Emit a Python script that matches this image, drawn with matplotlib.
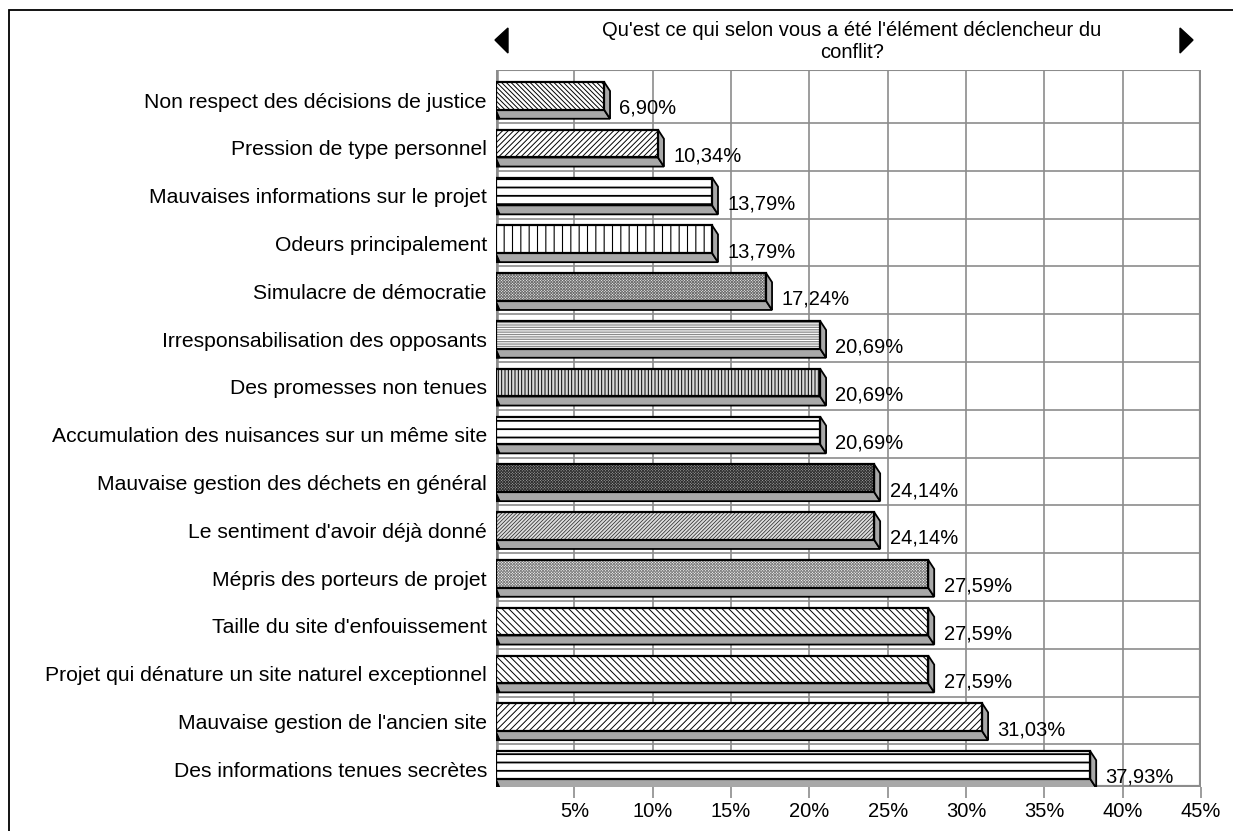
import matplotlib
matplotlib.use("Agg")
import matplotlib.pyplot as plt
from matplotlib.patches import Polygon, Rectangle

plt.rcParams['font.family'] = ['Liberation Sans', 'DejaVu Sans']

# top to bottom
categories = [
    "Non respect des décisions de justice",
    "Pression de type personnel",
    "Mauvaises informations sur le projet",
    "Odeurs principalement",
    "Simulacre de démocratie",
    "Irresponsabilisation des opposants",
    "Des promesses non tenues",
    "Accumulation des nuisances sur un même site",
    "Mauvaise gestion des déchets en général",
    "Le sentiment d'avoir déjà donné",
    "Mépris des porteurs de projet",
    "Taille du site d'enfouissement",
    "Projet qui dénature un site naturel exceptionnel",
    "Mauvaise gestion de l'ancien site",
    "Des informations tenues secrètes",
]
values = [6.90, 10.34, 13.79, 13.79, 17.24, 20.69, 20.69, 20.69,
          24.14, 24.14, 27.59, 27.59, 27.59, 31.03, 37.93]
hatches = ['\\' * 7, '/' * 6, '--', '||', 'x' * 12, '-' * 7, '|' * 5, '--',
           'x' * 12, '/' * 9, 'x' * 12, '\\' * 5, '\\' * 5, '/' * 5, '--']
faces = ['white', 'white', 'white', 'white', '#f0f0f0', 'white', '#d8d8d8', 'white',
         '#a0a0a0', '#dcdcdc', 'white', 'white', 'white', 'white', 'white']
hatch_cols = ['black', 'black', 'black', 'black', '#707070', '#8a8a8a', 'black', 'black',
              '#303030', '#202020', '#808080', 'black', 'black', 'black', 'black']
hatch_lw = [0.7, 0.7, 1.3, 0.8, 0.6, 0.9, 0.7, 1.3, 0.6, 0.5, 0.6, 0.7, 0.7, 0.7, 1.3]
ticks = [5, 10, 15, 20, 25, 30, 35, 40, 45]
title = "Qu'est ce qui selon vous a été l'élément déclencheur du\nconflit?"

W, H = 1233, 831
FS = 14.5
fig = plt.figure(figsize=(W / 100, H / 100), dpi=100)
ax = fig.add_axes([496 / W, 1 - 787 / H, (1201 - 496) / W, (787 - 70) / H])
ax.set_xlim(0, 45)
ax.set_ylim(14.5, -0.5)

grid_c = '#8c8c8c'
shade = '#a8a8a8'
dx, dy = 0.38, 0.19
h_top, h_bot = 0.25, 0.33

# back wall grid
for t in ticks[:-1]:
    ax.axvline(t, color=grid_c, lw=1.2, zorder=0)
for i in range(len(categories) - 1):
    ax.axhline(i + 0.5 + 0.11, color=grid_c, lw=1.2, zorder=0)
ax.axvline(45, color=grid_c, lw=3, zorder=0)
ax.axhline(14.5, color=grid_c, lw=3, zorder=0)
ax.axhline(-0.5, color=grid_c, lw=1.5, zorder=0)
ax.axvline(0, color=grid_c, lw=4, zorder=0)

idx = list(range(len(categories)))
for i, v in enumerate(values):
    yt, yb = i - h_top, i + h_bot
    yc = i + (h_bot - h_top) / 2
    with plt.rc_context({'hatch.linewidth': hatch_lw[i]}):
        ax.barh(yc, v, height=h_top + h_bot, left=0, color=faces[i],
                hatch=hatches[i], edgecolor=hatch_cols[i], lw=0, zorder=3)
    ax.barh(yc, v, height=h_top + h_bot, left=0, fill=False,
            edgecolor='black', lw=1.6, zorder=3.5)
    ax.add_patch(Polygon([(0, yb), (v, yb), (v + dx, yb + dy), (0, yb + dy)],
                         closed=True, fc=shade, ec='black', lw=1.3, zorder=2))
    ax.add_patch(Polygon([(v, yt), (v + dx, yt + dy), (v + dx, yb + dy), (v, yb)],
                         closed=True, fc=shade, ec='black', lw=1.3, zorder=2))
    ax.add_patch(Polygon([(0, yb), (0.25, yb + dy), (0, yb + dy)],
                         closed=True, fc='black', ec='black', lw=0.8, zorder=2))
    ax.text(v + dx + 0.6, i + 0.3, f"{v:.2f}".replace('.', ',') + '%',
            ha='left', va='center', fontsize=FS, zorder=4)

ax.set_xticks(ticks)
ax.set_xticklabels([f"{t}%" for t in ticks], fontsize=FS)
ax.set_yticks([i + 0.13 for i in idx])
ax.set_yticklabels(categories, fontsize=15.2)
ax.tick_params(axis='x', length=8, color=grid_c, width=1.2, pad=3)
ax.tick_params(axis='y', length=0, pad=6.5)
for s in ax.spines.values():
    s.set_visible(False)

fig.text(852 / W, 1 - 42 / H, title, ha='center', va='center', fontsize=FS,
         linespacing=1.2)
fig.add_artist(Polygon([(495 / W, 1 - 40 / H), (508 / W, 1 - 28 / H), (508 / W, 1 - 53 / H)],
                       closed=True, fc='black', ec='black', transform=fig.transFigure))
fig.add_artist(Polygon([(1193 / W, 1 - 40 / H), (1180 / W, 1 - 28 / H), (1180 / W, 1 - 53 / H)],
                       closed=True, fc='black', ec='black', transform=fig.transFigure))
fig.add_artist(Rectangle((9 / W, -0.1), 1.2, 1 - 10 / H + 0.1, fill=False, ec='black',
                         lw=1.3, transform=fig.transFigure))

fig.savefig("out.png", dpi=100)
